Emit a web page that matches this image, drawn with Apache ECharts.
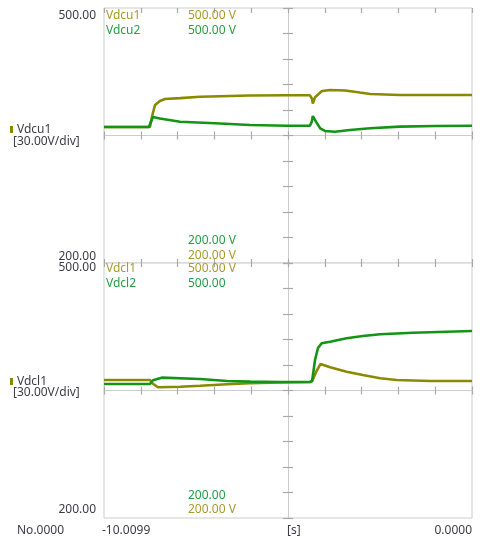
<!DOCTYPE html>
<html><head><meta charset="utf-8">
<script src="https://cdn.jsdelivr.net/npm/echarts@6/dist/echarts.min.js"></script>
<style>html,body{margin:0;padding:0;background:#fff}#c{width:483px;height:550px}</style>
</head><body><div id="c"></div>
<script>
// ---------- data ----------
const timeRange = [-10.0099, 0];      // seconds
const voltRange = [200, 500];         // V, 30 V/div
const divisions = 10;

// upper panel
const vdcu1T = [-10.0099, -8.76, -8.70, -8.62, -8.49, -8.35, -7.94, -7.40, -6.04, -5.03, -4.41, -4.35, -4.33, -4.27, -4.08, -3.86, -3.45, -3.05, -2.77, -1.96, -1.00, 0];
const vdcu1V = [360, 360, 373, 386, 390.6, 393, 394, 395.6, 397, 397.3, 397.3, 393, 387.5, 395, 402.4, 403.5, 403, 400.5, 398.8, 397.6, 397.6, 397.6];
const vdcu2T = [-10.0099, -8.79, -8.68, -8.49, -7.94, -6.99, -6.04, -5.03, -4.41, -4.36, -4.33, -4.24, -4.13, -4.00, -3.73, -3.32, -2.77, -1.96, -1.00, 0];
const vdcu2V = [360, 360, 371.8, 370, 366.2, 364.4, 362.4, 361.5, 361.5, 366, 372.9, 366, 358.5, 355.3, 354.5, 356.5, 358.5, 360.4, 361.2, 361.5];

// lower panel
const vdcl1T = [-10.0099, -8.76, -8.68, -8.54, -7.94, -7.40, -6.66, -6.04, -5.22, -4.41, -4.35, -4.24, -4.12, -3.86, -3.41, -2.97, -2.50, -2.05, -1.14, 0];
const vdcl1V = [362.4, 362.4, 358, 353.8, 354.5, 355.6, 357.3, 358.5, 359.4, 360, 361, 371.8, 381.2, 377.3, 372.1, 368.2, 364.4, 362.4, 361.2, 361.2];
const vdcl2T = [-10.0099, -8.76, -8.68, -8.44, -7.40, -6.66, -6.04, -5.22, -4.41, -4.35, -4.27, -4.19, -4.09, -3.86, -3.41, -2.97, -2.50, -1.61, 0];
const vdcl2V = [357.6, 357.6, 362, 365.1, 363.5, 361.2, 360.4, 360, 360, 361, 385.9, 400, 405.5, 407.4, 411.4, 414.1, 416.1, 418, 420];

// text
const channelNames = ['Vdcu1', 'Vdcu2', 'Vdcl1', 'Vdcl2'];
const upperTopValues = ['500.00 V', '500.00 V'];
const upperBottomValues = ['200.00 V', '200.00 V'];
const lowerTopValues = ['500.00 V', '500.00'];
const lowerBottomValues = ['200.00', '200.00 V'];
const scaleTickLabels = ['500.00', '200.00'];
const scaleDivLabel = '[30.00V/div]';
const timeLabels = ['No.0000', '-10.0099', '[s]', '0.0000'];

// ---------- styles ----------
const OLIVE = '#8a8a00', GREEN = '#149414';
const OLIVE_TXT = '#a89a2c', GREEN_TXT = '#23a046';
const DARK = '#3c3c48';
const GRID_C = '#cccccc', TICK_C = '#a8a8a8';
const FONT = '12px "Noto Sans", "Open Sans", sans-serif';

const pairs = (t, v) => t.map((x, i) => [x, v[i]]);

const grids = [
  { left: 104, top: 8, width: 368, height: 255 },
  { left: 104, top: 263, width: 368, height: 255 }
].map(g => Object.assign(g, { show: true, borderColor: GRID_C, borderWidth: 1, backgroundColor: '#fff', outerBoundsMode: 'none', containLabel: false }));

function dataX(gi) {
  return { type: 'value', gridIndex: gi, min: timeRange[0], max: timeRange[1], show: false };
}
function dataY(gi) {
  return { type: 'value', gridIndex: gi, min: voltRange[0], max: voltRange[1], show: false };
}
function decoAxis(gi, position, offset, showLine, inside, len) {
  return {
    type: 'value', gridIndex: gi, min: 0, max: divisions, interval: 1,
    position: position, offset: offset,
    axisLine: { show: showLine, onZero: false, lineStyle: { color: GRID_C, width: 1 } },
    axisTick: { show: len > 0, inside: inside, length: len, lineStyle: { color: TICK_C, width: 1.2 } },
    axisLabel: { show: false }, splitLine: { show: false }, silent: true
  };
}

const xAxes = [
  dataX(0), dataX(1),
  decoAxis(0, 'top', -127.5, true, false, 4),
  decoAxis(0, 'top', -127.5, false, true, 4),
  decoAxis(0, 'top', 0, false, true, 5),
  decoAxis(0, 'bottom', 0, false, true, 4),
  decoAxis(1, 'top', -127.5, true, false, 4),
  decoAxis(1, 'top', -127.5, false, true, 4),
  decoAxis(1, 'top', 0, false, true, 4)
];
const yAxes = [
  dataY(0), dataY(1),
  decoAxis(0, 'left', -184, true, false, 5),
  decoAxis(0, 'left', -184, false, true, 5),
  decoAxis(1, 'left', -184, true, false, 5),
  decoAxis(1, 'left', -184, false, true, 5)
];

function line(name, gi, t, v, color) {
  return {
    type: 'line', name: name, xAxisIndex: gi, yAxisIndex: gi,
    data: pairs(t, v), showSymbol: false, symbol: 'none',
    lineStyle: { color: color, width: 2.6 }, itemStyle: { color: color },
    animation: false, z: 5
  };
}

function txt(text, x, y, color, align) {
  return {
    type: 'text', x: x, y: y, z: 100, silent: true,
    style: { text: text, fill: color, font: FONT, textAlign: align || 'left', textVerticalAlign: 'middle', align: align || 'left', verticalAlign: 'middle' }
  };
}

const graphics = [
  txt(scaleTickLabels[0], 96, 16, DARK, 'right'),
  txt(scaleTickLabels[1], 96, 257, DARK, 'right'),
  txt(scaleTickLabels[0], 96, 268, DARK, 'right'),
  txt(scaleTickLabels[1], 96, 510, DARK, 'right'),
  txt(channelNames[0], 106, 16, OLIVE_TXT),
  txt(channelNames[1], 106, 30.5, GREEN_TXT),
  txt(upperTopValues[0], 188, 16, OLIVE_TXT),
  txt(upperTopValues[1], 188, 30.5, GREEN_TXT),
  txt(upperBottomValues[0], 188, 241, GREEN_TXT),
  txt(upperBottomValues[1], 188, 256, OLIVE_TXT),
  txt(channelNames[2], 106, 269, OLIVE_TXT),
  txt(channelNames[3], 106, 283.5, GREEN_TXT),
  txt(lowerTopValues[0], 188, 269, OLIVE_TXT),
  txt(lowerTopValues[1], 188, 283.5, GREEN_TXT),
  txt(lowerBottomValues[0], 188, 496, GREEN_TXT),
  txt(lowerBottomValues[1], 188, 510, OLIVE_TXT),
  { type: 'rect', shape: { x: 10, y: 126, width: 3, height: 7 }, style: { fill: OLIVE }, z: 100, silent: true },
  txt(channelNames[0], 17, 130, DARK),
  txt(scaleDivLabel, 13, 142, DARK),
  { type: 'rect', shape: { x: 10, y: 378, width: 3, height: 7 }, style: { fill: OLIVE }, z: 100, silent: true },
  txt(channelNames[2], 17, 382, DARK),
  txt(scaleDivLabel, 13, 393, DARK),
  txt(timeLabels[0], 17, 531, DARK),
  txt(timeLabels[1], 102, 531, DARK),
  txt(timeLabels[2], 287, 531, DARK),
  txt(timeLabels[3], 472, 531, DARK, 'right')
];

const chart = echarts.init(document.getElementById('c'), null, { renderer: 'canvas' });
chart.setOption({
  animation: false,
  backgroundColor: '#fff',
  grid: grids,
  xAxis: xAxes,
  yAxis: yAxes,
  series: [
    line('Vdcu1', 0, vdcu1T, vdcu1V, OLIVE),
    line('Vdcu2', 0, vdcu2T, vdcu2V, GREEN),
    line('Vdcl1', 1, vdcl1T, vdcl1V, OLIVE),
    line('Vdcl2', 1, vdcl2T, vdcl2V, GREEN)
  ],
  graphic: { elements: graphics }
});
</script></body></html>
